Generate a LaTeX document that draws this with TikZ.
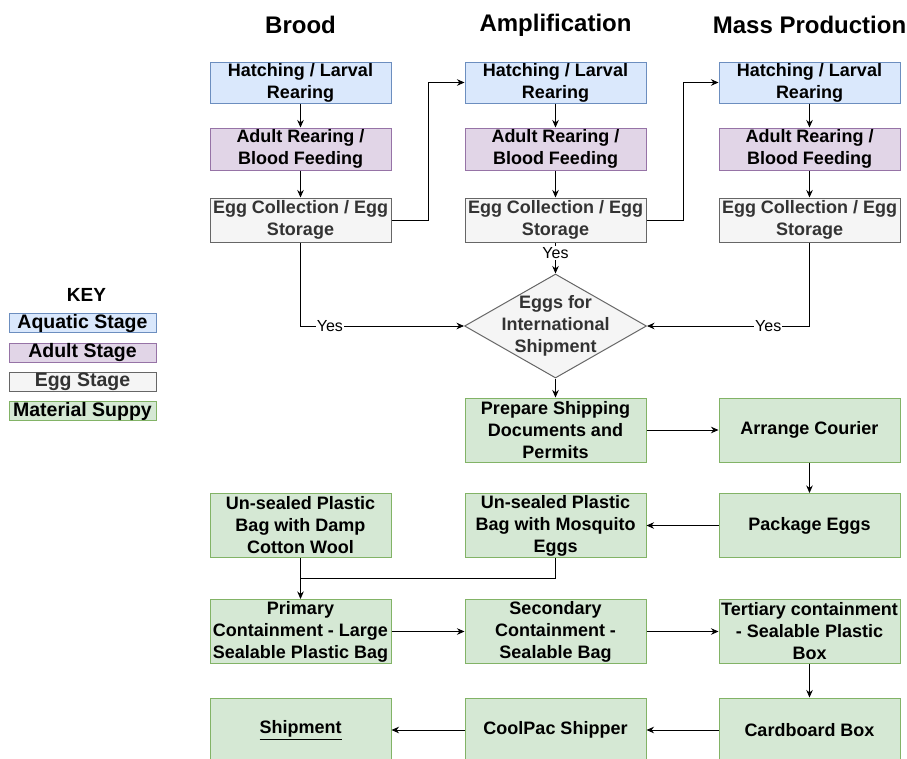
\documentclass[tikz,border=0pt]{standalone}
\usepackage{fontspec}
\setmainfont{Liberation Sans}
\usetikzlibrary{shapes.geometric,arrows.meta,calc}

\definecolor{aquaFill}{HTML}{DAE8FC}
\definecolor{aquaLine}{HTML}{6C8EBF}
\definecolor{adultFill}{HTML}{E1D5E7}
\definecolor{adultLine}{HTML}{9673A6}
\definecolor{eggFill}{HTML}{F5F5F5}
\definecolor{eggLine}{HTML}{666666}
\definecolor{eggText}{HTML}{333333}
\definecolor{matFill}{HTML}{D5E8D4}
\definecolor{matLine}{HTML}{82B366}

\begin{document}
\begin{tikzpicture}[x=1pt,y=-1pt,
        box/.style={rectangle,draw,line width=1pt,minimum width=181pt,inner sep=0pt,align=center,
            font=\fontsize{18}{22}\selectfont\bfseries},
        aquatic/.style={box,fill=aquaFill,draw=aquaLine,minimum height=41pt},
        adult/.style={box,fill=adultFill,draw=adultLine,minimum height=42pt},
        eggbox/.style={box,fill=eggFill,draw=eggLine,text=eggText,minimum height=44pt},
        supply/.style={box,fill=matFill,draw=matLine,minimum height=64pt},
        keybox/.style={box,minimum width=147pt,minimum height=19pt,font=\fontsize{19.5}{22}\selectfont\bfseries},
        heading/.style={font=\fontsize{24}{28}\selectfont\bfseries},
        yes/.style={fill=white,inner sep=1pt,font=\fontsize{16}{18}\selectfont},
        arrow/.style={-{Stealth[length=7.5pt,width=6.5pt]},line width=0.8pt}]
        \useasboundingbox (0,0) rectangle (907,758);

        % Column headings
        \node[heading] (T1) at (300.5,25) {Brood};
        \node[heading] (T2) at (555.5,25) {Amplification};
        \node[heading] (T3) at (809.5,25) {Mass Production};

        % Rearing chain in each column
        \node[aquatic] (H1) at (300.5,82.5) {Hatching / Larval\\Rearing};
        \node[adult] (A1) at (300.5,149) {Adult Rearing /\\Blood Feeding};
        \node[eggbox] (E1) at (300.5,220) {Egg Collection / Egg\\Storage};

        \node[aquatic] (H2) at (555.5,82.5) {Hatching / Larval\\Rearing};
        \node[adult] (A2) at (555.5,149) {Adult Rearing /\\Blood Feeding};
        \node[eggbox] (E2) at (555.5,220) {Egg Collection / Egg\\Storage};

        \node[aquatic] (H3) at (809.5,82.5) {Hatching / Larval\\Rearing};
        \node[adult] (A3) at (809.5,149) {Adult Rearing /\\Blood Feeding};
        \node[eggbox] (E3) at (809.5,220) {Egg Collection / Egg\\Storage};

        % Key
        \node[font=\fontsize{19}{22}\selectfont\bfseries] (K) at (86.5,294.5) {KEY};
        \node[keybox,fill=aquaFill,draw=aquaLine] (K1) at (82.5,323) {Aquatic Stage};
        \node[keybox,fill=adultFill,draw=adultLine] (K2) at (82.5,352.5) {Adult Stage};
        \node[keybox,fill=eggFill,draw=eggLine,text=eggText] (K3) at (82.5,381.5) {Egg Stage};
        \node[keybox,fill=matFill,draw=matLine] (K4) at (82.5,411) {Material Suppy};

        % Decision
        \node[diamond,draw=eggLine,fill=eggFill,line width=1pt,minimum width=182pt,
            minimum height=104pt,inner sep=0pt] (D) at (555.5,326) {};
        \node[align=center,text=eggText,font=\fontsize{18}{21.7}\selectfont\bfseries] (Dt) at (D) {Eggs for\\International\\Shipment};

        % Shipping steps
        \node[supply] (Doc) at (555.5,430) {Prepare Shipping\\Documents and\\Permits};
        \node[supply] (Cour) at (809.5,430) {Arrange Courier};
        \node[supply] (Wool) at (300.5,525.5) {Un-sealed Plastic\\Bag with Damp\\Cotton Wool};
        \node[supply] (Bag) at (555.5,525.5) {Un-sealed Plastic\\Bag with Mosquito\\Eggs};
        \node[supply] (Pack) at (809.5,525.5) {Package Eggs};
        \node[supply] (Pri) at (300.5,631.5) {Primary\\Containment - Large\\Sealable Plastic Bag};
        \node[supply] (Sec) at (555.5,631.5) {Secondary\\Containment -\\Sealable Bag};
        \node[supply] (Ter) at (809.5,631.5) {Tertiary containment\\- Sealable Plastic\\Box};
        \node[supply] (Ship) at (300.5,730) {\underline{Shipment}};
        \node[supply] (Cool) at (555.5,730) {CoolPac Shipper};
        \node[supply] (Box) at (809.5,730) {Cardboard Box};

        % Down each column
        \draw[arrow] (H1) -- (A1);
        \draw[arrow] (A1) -- (E1);
        \draw[arrow] (H2) -- (A2);
        \draw[arrow] (A2) -- (E2);
        \draw[arrow] (H3) -- (A3);
        \draw[arrow] (A3) -- (E3);

        % Hand-over to the next column
        \draw[arrow] (E1.east) -- ++(37,0) |- (H2.west);
        \draw[arrow] (E2.east) -- ++(37,0) |- (H3.west);

        % Eggs to the decision
        \draw[arrow] (E1) |- node[yes,pos=0.59] (Y1) {Yes} (D);
        \draw[arrow] (E2) -- node[yes,pos=0.34] (Y2) {Yes} (D);
        \draw[arrow] (E3) |- node[yes,pos=0.627] (Y3) {Yes} (D);

        % Shipping flow
        \draw[arrow] (D) -- (Doc);
        \draw[arrow] (Doc) -- (Cour);
        \draw[arrow] (Cour) -- (Pack);
        \draw[arrow] (Pack) -- (Bag);
        \coordinate (J) at ($(Wool.south)!.5!(Pri.north)$);
        \draw[line width=0.8pt] (Bag.south) |- (J);
        \draw[arrow] (Wool) -- (Pri);
        \draw[arrow] (Pri) -- (Sec);
        \draw[arrow] (Sec) -- (Ter);
        \draw[arrow] (Ter) -- (Box);
        \draw[arrow] (Box) -- (Cool);
        \draw[arrow] (Cool) -- (Ship);
    \end{tikzpicture}
\end{document}
